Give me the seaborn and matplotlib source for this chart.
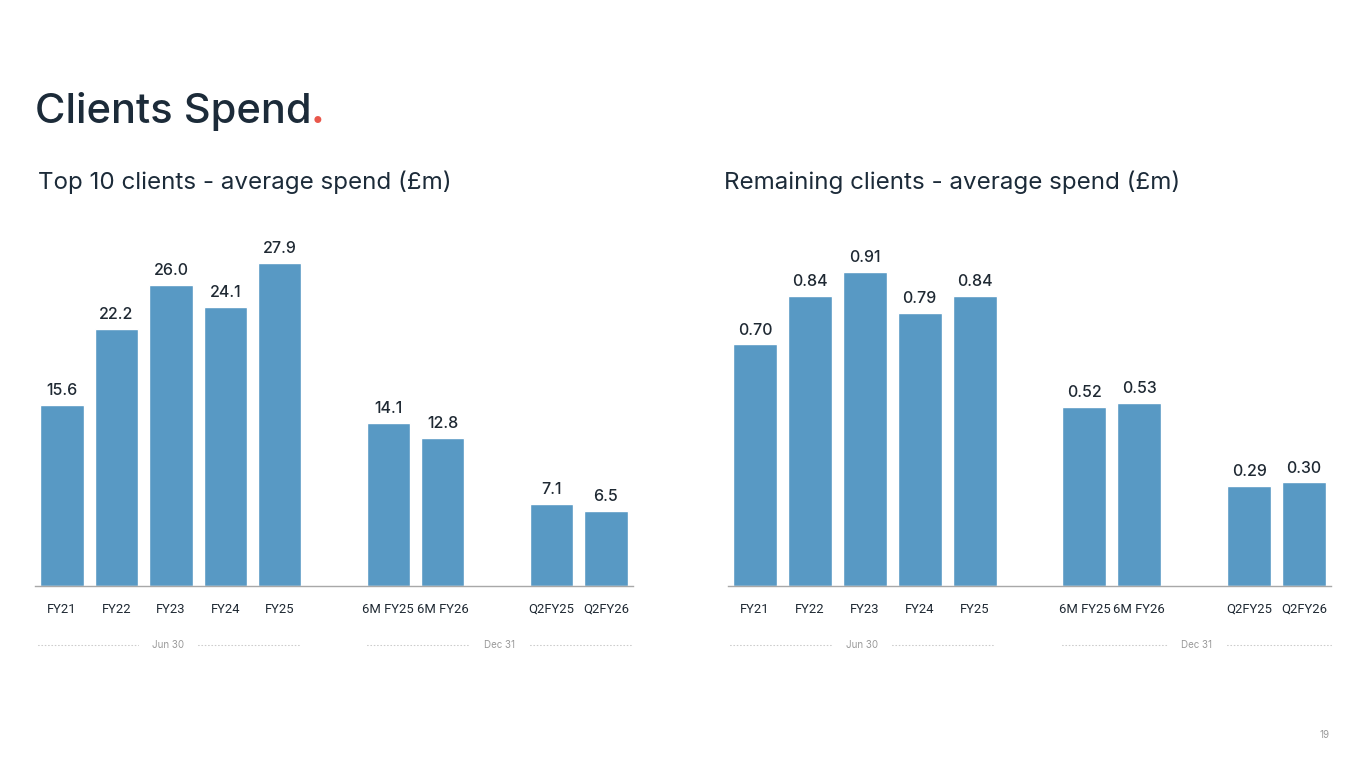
import matplotlib
matplotlib.use("Agg")
import matplotlib.pyplot as plt
import seaborn as sns
import pandas as pd

# ---- data ----
categories = ["FY21", "FY22", "FY23", "FY24", "FY25", "6M FY25", "6M FY26", "Q2FY25", "Q2FY26"]
top10_spend = [15.6, 22.2, 26.0, 24.1, 27.9, 14.1, 12.8, 7.1, 6.5]
remaining_spend = [0.70, 0.84, 0.91, 0.79, 0.84, 0.52, 0.53, 0.29, 0.30]
group_sizes = [5, 2, 2]
period_labels = ["Jun 30", "Dec 31"]
title = "Clients Spend"
left_subtitle = "Top 10 clients - average spend (£m)"
right_subtitle = "Remaining clients - average spend (£m)"
page_number = "19"

sns.set_theme(style="white")
plt.rcParams["font.family"] = ["Inter", "DejaVu Sans"]

BAR = "#5899c4"
DARK = "#1c2b39"
TXT = "#1f2933"
RED = "#e9574b"
GREY = "#9a9a9a"

# category order with blank spacer slots between groups
order = []
idx = 0
for g, n in enumerate(group_sizes):
    if g > 0:
        order.append(" " * g)
    order.extend(categories[idx:idx + n])
    idx += n

W, H = 1365, 768
fig = plt.figure(figsize=(W / 100, H / 100), dpi=100)
fig.patch.set_facecolor("white")


def px_box(x0, x1, ytop, ybot):
    return [x0 / W, 1 - ybot / H, (x1 - x0) / W, (ybot - ytop) / H]


ax1 = fig.add_axes(px_box(35, 633, 230, 586))
ax2 = fig.add_axes(px_box(727.6, 1331.4, 230, 586))


def draw(ax, vals, ymax, fmt):
    df = pd.DataFrame({"cat": categories, "val": vals})
    sns.barplot(data=df, x="cat", y="val", order=order, color=BAR, width=0.8,
                saturation=1, ax=ax, errorbar=None)
    ax.set_xlim(-0.5, len(order) - 0.5)
    ax.set_ylim(0, ymax)
    for c in ax.containers:
        ax.bar_label(c, fmt=fmt, padding=5, fontsize=11.5, color=TXT,
                     fontweight="medium")
    ax.set_xlabel("")
    ax.set_ylabel("")
    ax.set_yticks([])
    for s in ["top", "left", "right"]:
        ax.spines[s].set_visible(False)
    ax.spines["bottom"].set_color("#a8a8a8")
    ax.spines["bottom"].set_linewidth(1.0)
    ax.tick_params(axis="x", length=0, pad=12, labelsize=9.4, labelcolor=TXT)
    for lab in ax.get_xticklabels():
        lab.set_fontfamily(["Roboto", "DejaVu Sans"])
    ax.set_facecolor("white")

    # period labels with dotted lines
    trans = ax.get_xaxis_transform()
    yv = -(645 - 586) / 356
    pos = {c: i for i, c in enumerate(order)}
    first = pos[categories[0]]
    last_a = pos[categories[group_sizes[0] - 1]]
    first_b = pos[categories[group_sizes[0]]]
    last_b = pos[categories[-1]]
    spans = [(first - 0.45, last_a + 0.35), (first_b - 0.4, last_b + 0.5)]
    for (a, b), lab in zip(spans, period_labels):
        mid = (a + b) / 2
        ax.text(mid, yv, lab, transform=trans, ha="center", va="center",
                fontsize=7, color=GREY, clip_on=False)
        for s0, s1 in [(a, mid - 0.55), (mid + 0.55, b)]:
            ax.plot([s0, s1], [yv, yv], transform=trans, color="#cccccc",
                    lw=0.8, linestyle=(0, (0.7, 2.3)), clip_on=False,
                    solid_capstyle="round", dash_capstyle="round")


draw(ax1, top10_spend, 356 / (323 / 27.9), "{:.1f}")
draw(ax2, remaining_spend, 356 / (314 / 0.91), "{:.2f}")

# titles
t = fig.text(35 / W, 1 - 123 / H, title, fontsize=30, color=DARK,
             ha="left", va="baseline", fontweight="medium")
fig.canvas.draw()
bb = t.get_window_extent()
fig.text(bb.x1 / W - 0.001, 1 - 123 / H, ".", fontsize=30, color=RED,
         ha="left", va="baseline", fontweight="bold")

fig.text(38 / W, 1 - 189 / H, left_subtitle, fontsize=17.4, color=DARK,
         ha="left", va="baseline")
fig.text(724 / W, 1 - 189 / H, right_subtitle, fontsize=17.4, color=DARK,
         ha="left", va="baseline")
fig.text(1325 / W, 1 - 735 / H, page_number, fontsize=7, color=GREY,
         ha="center", va="center")

fig.savefig("out.png", dpi=100, facecolor="white")
